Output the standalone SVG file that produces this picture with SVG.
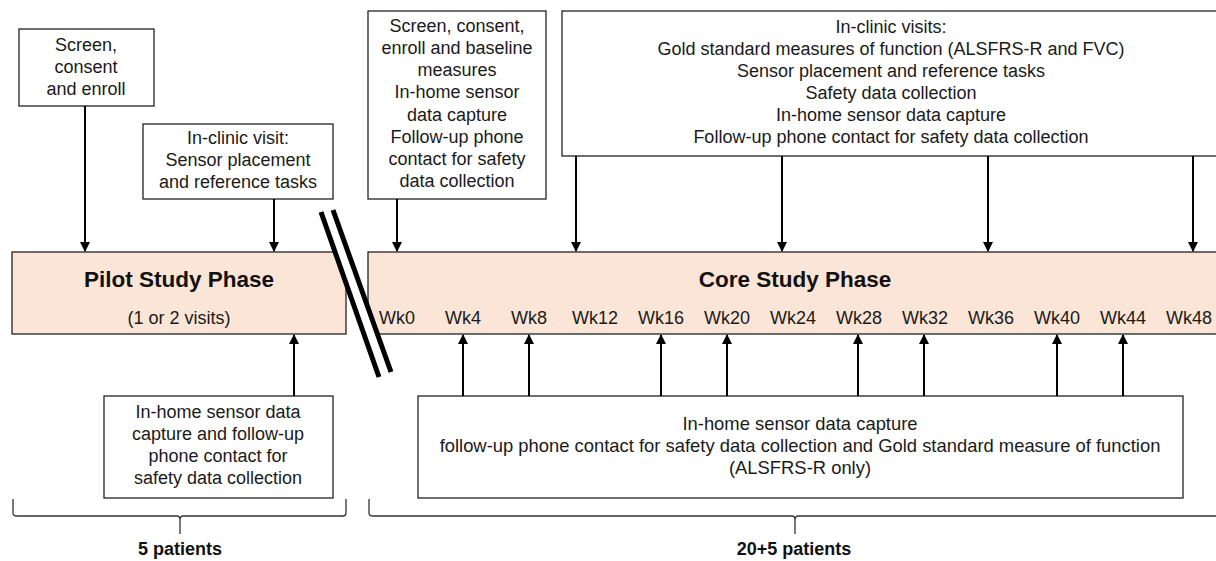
<svg xmlns="http://www.w3.org/2000/svg" width="1216" height="561" viewBox="0 0 1216 561">
<defs>
<style>
.box{fill:#fff;stroke:#222;stroke-width:1.3}
.phase{fill:#FBE5D6;stroke:#222;stroke-width:1.3}
.t{font-family:"Liberation Sans",Arial,sans-serif;font-size:18px;fill:#1a1a1a;text-anchor:middle}
.b{font-family:"Liberation Sans",Arial,sans-serif;font-weight:bold;fill:#111;text-anchor:middle}
.c{stroke:#000;stroke-width:2;fill:none}
.br{stroke:#333;stroke-width:1.3;fill:none}
</style>
<marker id="ah" viewBox="0 0 10 10" refX="9" refY="5" markerWidth="5" markerHeight="5" orient="auto-start-reverse" markerUnits="strokeWidth">
<path d="M0,0 L10,5 L0,10 z" fill="#000"/>
</marker>
</defs>
<rect width="1216" height="561" fill="#fff"/>

<g id="pilot-phase">
<rect class="phase" x="12" y="252" width="334" height="82"/>
<text class="b" x="179" y="287" font-size="22.5">Pilot Study Phase</text>
<text class="t" x="179" y="324">(1 or 2 visits)</text>
</g>

<g id="core-phase">
<rect class="phase" x="368" y="252" width="860" height="82"/>
<text class="b" x="795" y="287" font-size="22.5">Core Study Phase</text>
<g class="t">
<text x="397" y="324">Wk0</text>
<text x="463" y="324">Wk4</text>
<text x="529" y="324">Wk8</text>
<text x="595" y="324">Wk12</text>
<text x="661" y="324">Wk16</text>
<text x="727" y="324">Wk20</text>
<text x="793" y="324">Wk24</text>
<text x="859" y="324">Wk28</text>
<text x="925" y="324">Wk32</text>
<text x="991" y="324">Wk36</text>
<text x="1057" y="324">Wk40</text>
<text x="1123" y="324">Wk44</text>
<text x="1189" y="324">Wk48</text>
</g>
</g>

<g id="break">
<polygon points="321,212 333,210 391,372 379,377" fill="#fff"/>
<line x1="321" y1="212" x2="379" y2="377" stroke="#000" stroke-width="5"/>
<line x1="333" y1="210" x2="391" y2="372" stroke="#000" stroke-width="5"/>
</g>

<g id="screen-enroll">
<rect class="box" x="19" y="29" width="135" height="77"/>
<text class="t" x="86" y="51">Screen,</text>
<text class="t" x="86" y="73">consent</text>
<text class="t" x="86" y="95">and enroll</text>
</g>

<g id="pilot-clinic">
<rect class="box" x="143" y="124" width="190" height="75"/>
<text class="t" x="238" y="144">In-clinic visit:</text>
<text class="t" x="238" y="166">Sensor placement</text>
<text class="t" x="238" y="188">and reference tasks</text>
</g>

<g id="core-baseline">
<rect class="box" x="368" y="11" width="178" height="188"/>
<text class="t" x="457" y="32">Screen, consent,</text>
<text class="t" x="457" y="54">enroll and baseline</text>
<text class="t" x="457" y="76">measures</text>
<text class="t" x="457" y="98">In-home sensor</text>
<text class="t" x="457" y="121">data capture</text>
<text class="t" x="457" y="143">Follow-up phone</text>
<text class="t" x="457" y="165">contact for safety</text>
<text class="t" x="457" y="187">data collection</text>
</g>

<g id="core-clinic">
<rect class="box" x="562" y="11" width="670" height="145"/>
<text class="t" x="891" y="33">In-clinic visits:</text>
<text class="t" x="891" y="55">Gold standard measures of function (ALSFRS-R and FVC)</text>
<text class="t" x="891" y="77">Sensor placement and reference tasks</text>
<text class="t" x="891" y="99">Safety data collection</text>
<text class="t" x="891" y="121">In-home sensor data capture</text>
<text class="t" x="891" y="143">Follow-up phone contact for safety data collection</text>
</g>

<g id="pilot-home">
<rect class="box" x="104" y="396" width="229" height="102"/>
<text class="t" x="218" y="418">In-home sensor data</text>
<text class="t" x="218" y="440">capture and follow-up</text>
<text class="t" x="218" y="462">phone contact for</text>
<text class="t" x="218" y="484">safety data collection</text>
</g>

<g id="core-home">
<rect class="box" x="418" y="396" width="765" height="102"/>
<text class="t" x="800" y="430" style="font-size:18.4px">In-home sensor data capture</text>
<text class="t" x="800" y="452" style="font-size:18.4px">follow-up phone contact for safety data collection and Gold standard measure of function</text>
<text class="t" x="800" y="474" style="font-size:18.4px">(ALSFRS-R only)</text>
</g>

<g id="connectors">
<line class="c" x1="85" y1="106" x2="85" y2="251" marker-end="url(#ah)"/>
<line class="c" x1="274" y1="199" x2="274" y2="251" marker-end="url(#ah)"/>
<line class="c" x1="397" y1="199" x2="397" y2="251" marker-end="url(#ah)"/>
<line class="c" x1="576" y1="156" x2="576" y2="251" marker-end="url(#ah)"/>
<line class="c" x1="782" y1="156" x2="782" y2="251" marker-end="url(#ah)"/>
<line class="c" x1="988" y1="156" x2="988" y2="251" marker-end="url(#ah)"/>
<line class="c" x1="1193" y1="156" x2="1193" y2="251" marker-end="url(#ah)"/>
<line class="c" x1="294" y1="396" x2="294" y2="335" marker-end="url(#ah)"/>
<line class="c" x1="463" y1="396" x2="463" y2="335" marker-end="url(#ah)"/>
<line class="c" x1="529" y1="396" x2="529" y2="335" marker-end="url(#ah)"/>
<line class="c" x1="661" y1="396" x2="661" y2="335" marker-end="url(#ah)"/>
<line class="c" x1="727" y1="396" x2="727" y2="335" marker-end="url(#ah)"/>
<line class="c" x1="858" y1="396" x2="858" y2="335" marker-end="url(#ah)"/>
<line class="c" x1="924" y1="396" x2="924" y2="335" marker-end="url(#ah)"/>
<line class="c" x1="1057" y1="396" x2="1057" y2="335" marker-end="url(#ah)"/>
<line class="c" x1="1123" y1="396" x2="1123" y2="335" marker-end="url(#ah)"/>
</g>

<g id="pilot-brace">
<path class="br" d="M13,499 L13,513 Q13,516 17,516 L177,516 Q180,516 180,520 L180,534 M180,520 Q180,516 183,516 L343,516 Q346,516 346,513 L346,499"/>
<text class="b" x="180" y="555" font-size="18">5 patients</text>
</g>

<g id="core-brace">
<path class="br" d="M369,499 L369,513 Q369,516 373,516 L792,516 Q795,516 795,520 L795,534 M795,520 Q795,516 798,516 L1220,516"/>
<text class="b" x="794" y="555" font-size="18">20+5 patients</text>
</g>
</svg>
